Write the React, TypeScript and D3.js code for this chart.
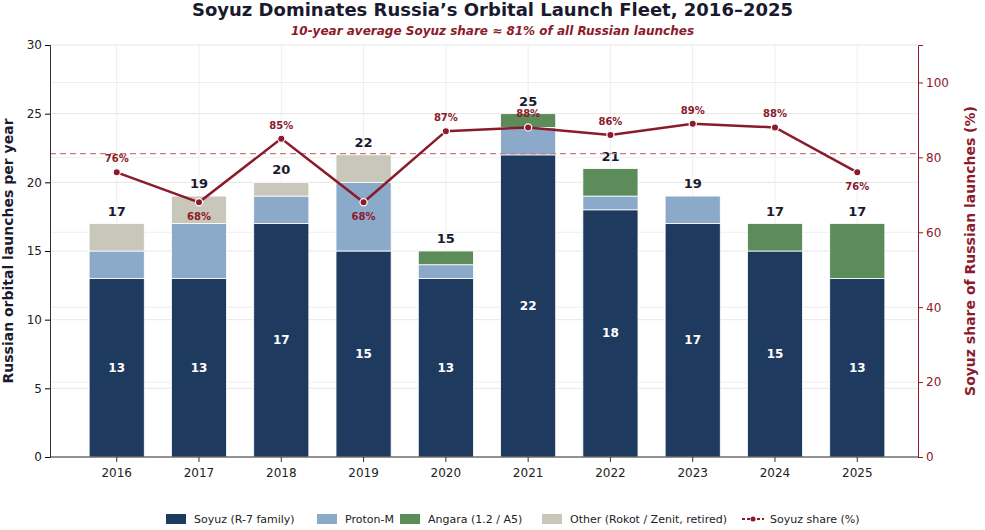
import { useEffect, useRef } from 'react';
import * as d3 from 'd3';

const years = ['2016', '2017', '2018', '2019', '2020', '2021', '2022', '2023', '2024', '2025'];
const soyuz = [13, 13, 17, 15, 13, 22, 18, 17, 15, 13];
const proton = [2, 4, 2, 5, 1, 2, 1, 2, 0, 0];
const angara = [0, 0, 0, 0, 1, 1, 2, 0, 2, 4];
const other = [2, 2, 1, 2, 0, 0, 0, 0, 0, 0];
const share = [76, 68, 85, 68, 87, 88, 86, 89, 88, 76];
const shareBelow = ['2017', '2019', '2025'];
const avgShare = 81;

const series = [
  { key: 'Soyuz (R-7 family)', values: soyuz, color: '#1f3a5f' },
  { key: 'Proton-M', values: proton, color: '#8ba9c9' },
  { key: 'Angara (1.2 / A5)', values: angara, color: '#5b8c5a' },
  { key: 'Other (Rokot / Zenit, retired)', values: other, color: '#c9c6ba' },
];
const lineColor = '#8b1a2b';

export default function App() {
  const ref = useRef<SVGSVGElement>(null);

  useEffect(() => {
    const svg = d3.select(ref.current);
    svg.selectAll('*').remove();
    const W = 985, H = 530;
    const left = 50, right = 918, top = 45, bottom = 457;
    const font = 'DejaVu Sans, sans-serif';

    const x = d3.scaleBand().domain(years).range([62, 912]).padding(0.33);
    const y = d3.scaleLinear().domain([0, 30]).range([bottom, top]);
    const y2 = d3.scaleLinear().domain([0, 110]).range([bottom, top]);

    svg.append('rect').attr('width', W).attr('height', H).attr('fill', '#fff');

    // grid
    const g = svg.append('g');
    y.ticks(6).forEach(t => g.append('line').attr('x1', left).attr('x2', right)
      .attr('y1', y(t)).attr('y2', y(t)).attr('stroke', '#e6e6e6'));
    y2.ticks(6).forEach(t => g.append('line').attr('x1', left).attr('x2', right)
      .attr('y1', y2(t)).attr('y2', y2(t)).attr('stroke', '#eeeeee'));
    years.forEach(yr => g.append('line').attr('x1', x(yr)! + x.bandwidth() / 2).attr('x2', x(yr)! + x.bandwidth() / 2)
      .attr('y1', top).attr('y2', bottom).attr('stroke', '#eeeeee'));

    // stacked bars
    years.forEach((yr, i) => {
      let base = 0;
      series.forEach(s => {
        const v = s.values[i];
        if (v > 0) {
          svg.append('rect').attr('x', x(yr)!).attr('width', x.bandwidth())
            .attr('y', y(base + v)).attr('height', y(base) - y(base + v))
            .attr('fill', s.color).attr('stroke', '#fff').attr('stroke-width', 0.8);
        }
        base += v;
      });
      const cx = x(yr)! + x.bandwidth() / 2;
      svg.append('text').attr('x', cx).attr('y', y(base) - 8).attr('text-anchor', 'middle')
        .attr('font-family', font).attr('font-weight', 'bold').attr('font-size', 13).attr('fill', '#1a1a2e').text(base);
      svg.append('text').attr('x', cx).attr('y', y(soyuz[i] / 2) + 4).attr('text-anchor', 'middle')
        .attr('font-family', font).attr('font-weight', 'bold').attr('font-size', 12).attr('fill', '#fff').text(soyuz[i]);
    });

    // average line
    svg.append('line').attr('x1', left).attr('x2', right).attr('y1', y2(avgShare)).attr('y2', y2(avgShare))
      .attr('stroke', '#c97a80').attr('stroke-dasharray', '6,4').attr('stroke-width', 1.1);

    // share line
    const cxOf = (yr: string) => x(yr)! + x.bandwidth() / 2;
    const line = d3.line<number>().x((_, i) => cxOf(years[i])).y(d => y2(d));
    svg.append('path').attr('d', line(share)).attr('fill', 'none').attr('stroke', lineColor).attr('stroke-width', 2.5);
    share.forEach((v, i) => {
      const cx = cxOf(years[i]), cy = y2(v);
      svg.append('circle').attr('cx', cx).attr('cy', cy).attr('r', 3.6).attr('fill', lineColor)
        .attr('stroke', '#fff').attr('stroke-width', 1.2);
      const below = shareBelow.includes(years[i]);
      svg.append('text').attr('x', cx).attr('y', below ? cy + 18 : cy - 10).attr('text-anchor', 'middle')
        .attr('font-family', font).attr('font-weight', 'bold').attr('font-size', 10).attr('fill', lineColor).text(`${v}%`);
    });

    // axes
    const axL = svg.append('g').attr('transform', `translate(${left},0)`)
      .call(d3.axisLeft(y).ticks(6).tickSize(5));
    axL.select('.domain').attr('stroke', '#333');
    axL.selectAll('text').attr('font-family', font).attr('font-size', 12).attr('fill', '#222');
    const axR = svg.append('g').attr('transform', `translate(${right},0)`)
      .call(d3.axisRight(y2).tickValues([0, 20, 40, 60, 80, 100]).tickSize(5));
    axR.select('.domain').attr('stroke', lineColor);
    axR.selectAll('line').attr('stroke', lineColor);
    axR.selectAll('text').attr('font-family', font).attr('font-size', 12).attr('fill', lineColor);
    svg.append('line').attr('x1', left).attr('x2', right).attr('y1', bottom).attr('y2', bottom).attr('stroke', '#333');
    years.forEach(yr => {
      svg.append('line').attr('x1', cxOf(yr)).attr('x2', cxOf(yr)).attr('y1', bottom).attr('y2', bottom + 5).attr('stroke', '#333');
      svg.append('text').attr('x', cxOf(yr)).attr('y', bottom + 20).attr('text-anchor', 'middle')
        .attr('font-family', font).attr('font-size', 12).attr('fill', '#222').text(yr);
    });

    svg.append('text').attr('transform', `translate(13,${(top + bottom) / 2}) rotate(-90)`).attr('text-anchor', 'middle')
      .attr('font-family', font).attr('font-weight', 'bold').attr('font-size', 14).attr('fill', '#1a1a2e')
      .text('Russian orbital launches per year');
    svg.append('text').attr('transform', `translate(975,${(top + bottom) / 2}) rotate(-90)`).attr('text-anchor', 'middle')
      .attr('font-family', font).attr('font-weight', 'bold').attr('font-size', 14).attr('fill', lineColor)
      .text('Soyuz share of Russian launches (%)');

    svg.append('text').attr('x', W / 2).attr('y', 16).attr('text-anchor', 'middle')
      .attr('font-family', font).attr('font-weight', 'bold').attr('font-size', 18).attr('fill', '#1a1a2e')
      .text('Soyuz Dominates Russia’s Orbital Launch Fleet, 2016–2025');
    svg.append('text').attr('x', W / 2).attr('y', 35).attr('text-anchor', 'middle')
      .attr('font-family', font).attr('font-style', 'italic').attr('font-weight', 'bold').attr('font-size', 12).attr('fill', lineColor)
      .text('10-year average Soyuz share ≈ 81% of all Russian launches');

    // legend
    const items = [...series.map(s => ({ key: s.key, color: s.color, line: false })),
      { key: 'Soyuz share (%)', color: lineColor, line: true }];
    const lx = [166, 317, 400, 542, 742];
    items.forEach((it, i) => {
      const gx = lx[i], gy = 519;
      if (it.line) {
        svg.append('line').attr('x1', gx).attr('x2', gx + 22).attr('y1', gy).attr('y2', gy)
          .attr('stroke', it.color).attr('stroke-width', 2).attr('stroke-dasharray', '3,2');
        svg.append('circle').attr('cx', gx + 11).attr('cy', gy).attr('r', 2.5).attr('fill', it.color);
      } else {
        svg.append('rect').attr('x', gx).attr('y', gy - 5).attr('width', 20).attr('height', 10).attr('fill', it.color);
      }
      svg.append('text').attr('x', gx + 28).attr('y', gy + 4).attr('font-family', font).attr('font-size', 11)
        .attr('fill', '#222').text(it.key);
    });
  }, []);

  return <svg ref={ref} width={985} height={530} style={{ position: 'absolute', left: 0, top: 0 }} />;
}
